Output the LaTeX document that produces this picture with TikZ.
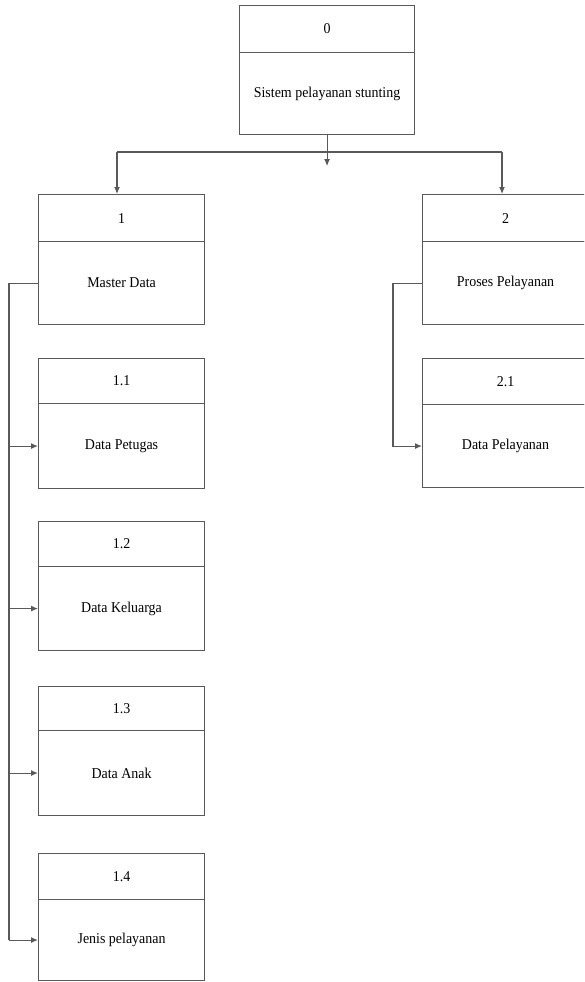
\documentclass[tikz,border=0pt]{standalone}
\usepackage{fontspec}
\setmainfont{Liberation Serif}[FakeStretch=0.93]
\usetikzlibrary{arrows.meta}
\tikzset{
  ln/.style={draw=black!65, line width=1.1pt},
  numbox/.style={ln, minimum width=166pt, minimum height=47pt, inner sep=0pt, anchor=north west, font=\fontsize{15}{17}\selectfont},
  labbox/.style={ln, minimum width=166pt, minimum height=83pt, inner sep=0pt, anchor=north west, font=\fontsize{15}{17}\selectfont},
  conn/.style={draw=black!65, line width=1.1pt},
  arr/.style={conn, -{Latex[length=7pt,width=6pt]}}
}
\begin{document}
\begin{tikzpicture}[x=1pt,y=-1pt]
\useasboundingbox (0,0) rectangle (584,982);
\begin{scope}
\clip (0,0) rectangle (584,982);
% box 0
\node[numbox, minimum width=175pt] (n0) at (239,5) {0};
\node[labbox, minimum width=175pt, minimum height=82pt] (b0) at (239,52) {Sistem pelayanan stunting};
% box 1
\node[numbox] (n1) at (38,194) {1};
\node[labbox] (b1) at (38,241) {Master Data};
% box 2
\node[numbox] (n2) at (422,194) {2};
\node[labbox] (b2) at (422,241) {Proses Pelayanan};
% box 1.1
\node[numbox, minimum height=45pt] (n11) at (38,358) {1.1};
\node[labbox, minimum height=85pt] (b11) at (38,403) {Data Petugas};
% box 2.1
\node[numbox, minimum height=46pt] (n21) at (422,358) {2.1};
\node[labbox] (b21) at (422,404) {Data Pelayanan};
% box 1.2
\node[numbox, minimum height=45pt] (n12) at (38,521) {1.2};
\node[labbox, minimum height=84pt] (b12) at (38,566) {Data Keluarga};
% box 1.3
\node[numbox, minimum height=44pt] (n13) at (38,686) {1.3};
\node[labbox, minimum height=85pt] (b13) at (38,730) {Data Anak};
% box 1.4
\node[numbox, minimum height=46pt] (n14) at (38,853) {1.4};
\node[labbox, minimum height=81pt] (b14) at (38,899) {Jenis pelayanan};
\end{scope}
% connectors from box 0
\coordinate (hl) at (117,152);
\coordinate (hr) at (502,152);
\draw[arr] (b0.south) -- ++(0,31);
\draw[conn] (hl) -- (hr);
\draw[arr] (hl) -- (hl |- n1.north);
\draw[arr] (hr) -- (hr |- n2.north);
% left branch
\coordinate (lx) at (9,0);
\draw[conn] (b1.west) -- (lx |- b1.west) -- (lx |- b14.west);
\draw[arr] (lx |- b11.west) -- (b11.west);
\draw[arr] (lx |- b12.west) -- (b12.west);
\draw[arr] (lx |- b13.west) -- (b13.west);
\draw[arr] (lx |- b14.west) -- (b14.west);
% right branch
\coordinate (rx) at (393,0);
\draw[arr] (b2.west) -- (rx |- b2.west) -- (rx |- b21.west) -- (b21.west);
\end{tikzpicture}
\end{document}
